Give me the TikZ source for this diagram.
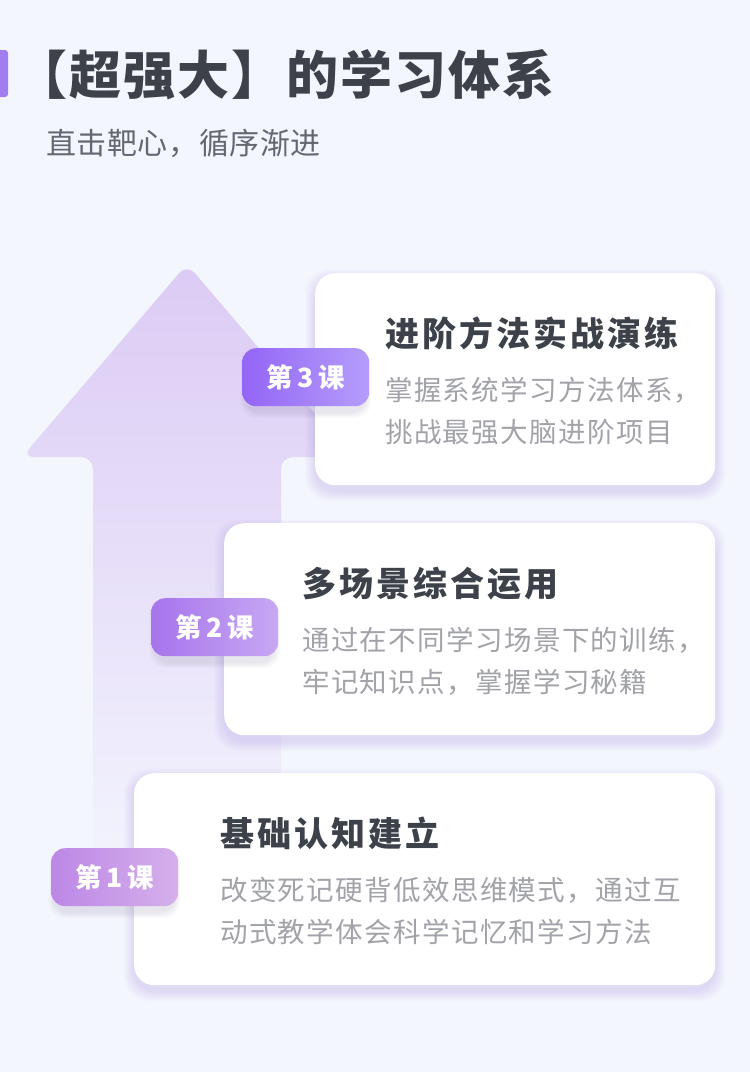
\documentclass[tikz,border=0pt]{standalone}
\usepackage{fontspec}
\newfontfamily\cjk{Noto Sans CJK SC}
\usepackage{tikz}
\definecolor{bg}{HTML}{F4F6FE}
\definecolor{titlegray}{HTML}{3D424A}
\definecolor{subgray}{HTML}{64686F}
\definecolor{descgray}{HTML}{A1A3A9}
\definecolor{accent}{HTML}{A07EF2}
\definecolor{arrowtop}{HTML}{DCCBF5}
\definecolor{arrowmid}{HTML}{E6DCF9}
\definecolor{cardglow}{HTML}{8C78D8}
\definecolor{badgeglow}{HTML}{6E6490}
\definecolor{bl3}{HTML}{9365F6}
\definecolor{br3}{HTML}{B59DFB}
\definecolor{bl2}{HTML}{A674EC}
\definecolor{br2}{HTML}{C8A8F3}
\definecolor{bl1}{HTML}{BD87E6}
\definecolor{br1}{HTML}{D5B0EB}
\tikzset{
  card/.style = {fill=white, rounded corners=20pt, inner sep=0pt,
    anchor=north west},
  badge/.style = {rounded corners=14pt, inner sep=0pt, anchor=north west,
    minimum width=127pt, minimum height=58pt, text=white,
    font=\cjk\bfseries\fontsize{26.5}{30}\selectfont},
  headline/.style = {anchor=base west, inner sep=0pt, text=titlegray,
    font=\cjk\bfseries\fontsize{34}{40}\selectfont\addfontfeatures{LetterSpace=9}},
  blurb/.style = {anchor=north west, inner sep=0pt, align=left,
    text=descgray, font=\cjk\fontsize{27.5}{42}\selectfont\addfontfeatures{LetterSpace=5}}
}
\begin{document}
\begin{tikzpicture}[x=1pt, y=-1pt]
\fill[bg] (0,0) rectangle (750,1072);
\useasboundingbox (0,0) rectangle (750,1072);
% heading
\fill[accent, rounded corners=3pt] (-6,50) rectangle (8,97);
\node[anchor=base west, inner sep=0pt, text=titlegray,
  font=\cjk\bfseries\fontsize{52}{58}\selectfont\addfontfeatures{LetterSpace=4}]
  (title) at (15.5,94) {【超强大】的学习体系};
\node[anchor=base west, inner sep=0pt, text=subgray,
  font=\cjk\fontsize{30}{36}\selectfont\addfontfeatures{LetterSpace=2}]
  (subtitle) at (46,154) {直击靶心，循序渐进};
% arrow
\shade[top color=arrowtop, middle color=arrowmid, bottom color=bg, rounded corners=12pt]
  (187,264) -- (352,457) -- (281,457) -- (281,900) -- (93,900) -- (93,457)
  -- (22,457) -- cycle;
% cards
\foreach \n/\x/\y/\bx/\tx/\head/\lines in {
  3/315/273/242/385/{进阶方法实战演练}/{掌握系统学习方法体系，\\挑战最强大脑进阶项目},
  2/224/523/151/302/{多场景综合运用}/{通过在不同学习场景下的训练，\\牢记知识点，掌握学习秘籍},
  1/134/773/51/220/{基础认知建立}/{改变死记硬背低效思维模式，通过互\\动式教学体会科学记忆和学习方法}} {
  \foreach \s in {1,...,10}
    \fill[cardglow, opacity=.018, rounded corners=24pt]
      (\x-\s,\y+6-\s) rectangle (715+\s,\y+218+\s);
  \node[card, minimum width=715pt-\x pt, minimum height=212pt] (card\n) at (\x,\y) {};
  \foreach \s in {1,...,6}
    \fill[badgeglow, opacity=.025, rounded corners=16pt]
      (\bx+4-\s,\y+81-\s) rectangle (\bx+123+\s,\y+139+\s);
  \node[badge, left color=bl\n, right color=br\n] (badge\n) at (\bx,\y+75) {第\,\n\,课};
  \node[headline] (head\n) at (\tx,\y+73) {\head};
  \node[blurb] (blurb\n) at (\tx,\y+104) {\lines};
}
\end{tikzpicture}
\end{document}
